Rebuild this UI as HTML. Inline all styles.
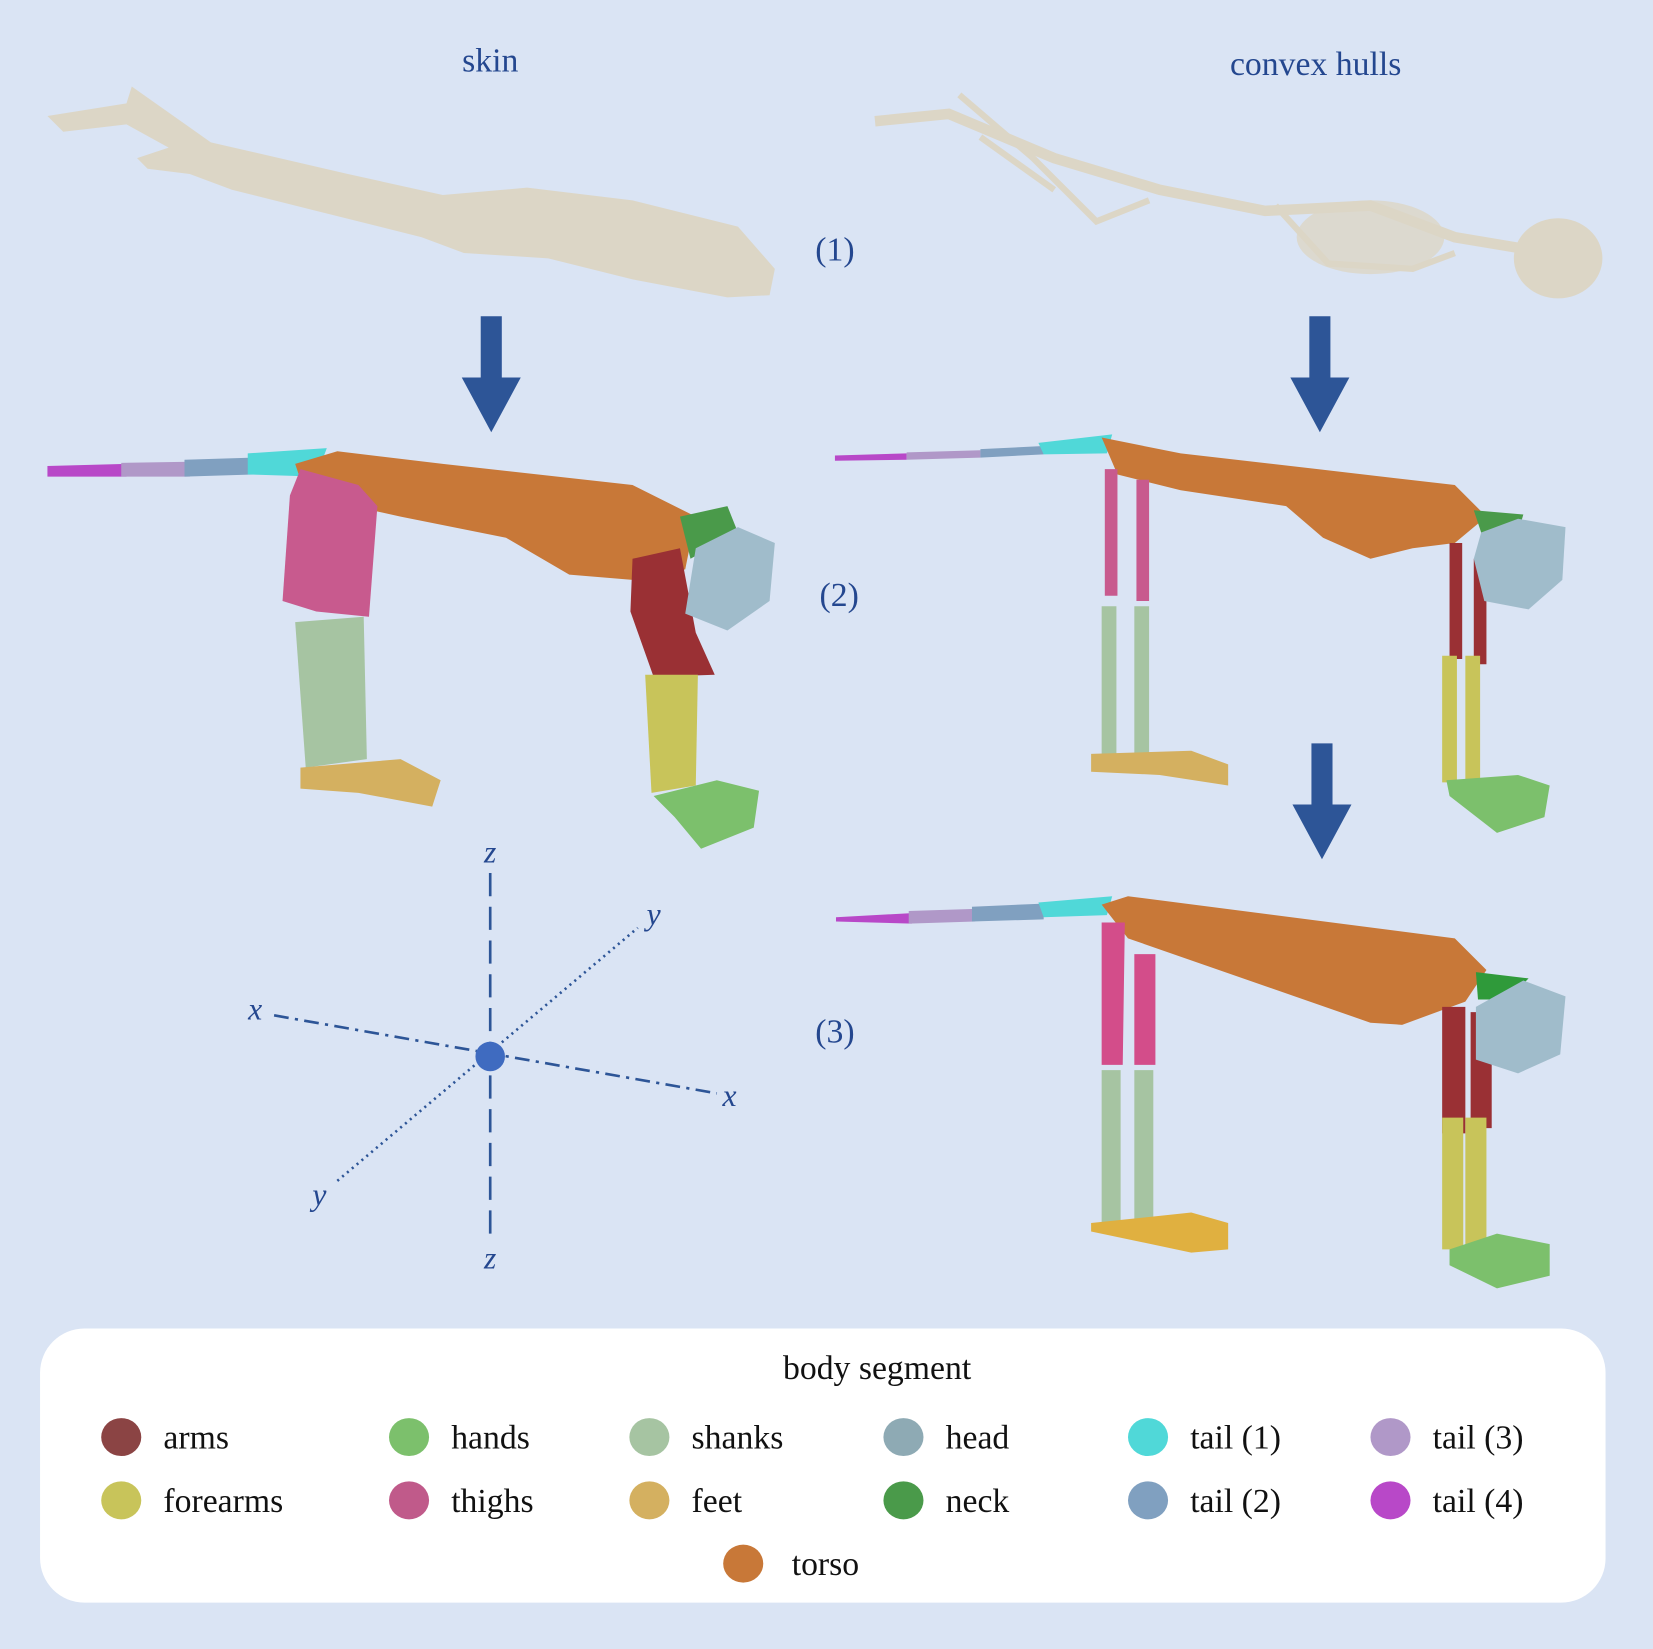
<!DOCTYPE html>
<html><head><meta charset="utf-8"><style>
html,body{margin:0;padding:0;background:#dae4f4;}
svg{display:block;}
text{font-family:"Liberation Serif",serif;}
</style></head><body>
<svg id="fig" width="1653" height="1649" viewBox="0 0 1568 1564" preserveAspectRatio="none" xmlns="http://www.w3.org/2000/svg">
<rect width="1568" height="1564" fill="#dae4f4"/>
<g fill="#24478f" font-size="32">
<text x="465" y="68" text-anchor="middle">skin</text>
<text x="1248" y="71" text-anchor="middle">convex hulls</text>
<text x="792" y="247" text-anchor="middle">(1)</text>
<text x="796" y="575" text-anchor="middle">(2)</text>
<text x="792" y="989" text-anchor="middle">(3)</text>
</g>
<!-- skin model -->
<path fill="#dcd6c6" d="M45,110 L120,98 L125,82 L200,135 L330,165 L420,185 L500,178 L600,190 L660,205 L700,215 L735,255 L730,280 L690,282 L600,265 L520,245 L440,240 L400,225 L300,200 L220,180 L180,165 L140,160 L130,150 L160,140 L120,118 L60,125 Z"/>
<!-- skeleton model -->
<path fill="none" stroke="#dcd6c6" stroke-width="10" d="M830,115 L900,108 L1000,150 L1100,180 L1200,200 L1300,195 L1380,225 L1440,235"/>
<path fill="none" stroke="#dcd6c6" stroke-width="6" d="M910,90 L980,150 L1040,210 L1090,190 M930,130 L1000,180 M1210,195 L1260,250 L1340,255 L1380,240"/>
<ellipse cx="1300" cy="225" rx="70" ry="35" fill="#dcd6c6" opacity="0.8"/>
<ellipse cx="1478" cy="245" rx="42" ry="38" fill="#dcd6c6"/>
<!-- arrows -->
<g fill="#2d5597">
<path d="M456,300 h20 v58 h18 l-28,52 l-28,-52 h18 Z"/>
<path d="M1242,300 h20 v58 h18 l-28,52 l-28,-52 h18 Z"/>
<path d="M1244,705 h20 v58 h18 l-28,52 l-28,-52 h18 Z"/>
</g>
<!-- segmented skin model (2) -->
<g>
<path d="M45,442 L120,440 L120,452 L45,452 Z" fill="#b848c8"/>
<path d="M115,439 L180,438 L180,452 L115,452 Z" fill="#b098c8"/>
<path d="M175,436 L240,434 L240,450 L175,452 Z" fill="#80a0c0"/>
<path d="M235,430 L310,425 L300,452 L235,450 Z" fill="#50d8d8"/>
<path d="M280,440 L320,428 L420,440 L600,460 L660,490 L650,540 L600,550 L540,545 L480,510 L380,490 L290,470 Z" fill="#c87838"/>
<path d="M285,445 L340,460 L358,480 L350,585 L300,580 L268,570 L275,470 Z" fill="#c85a8e"/>
<path d="M280,590 L345,585 L348,720 L290,728 Z" fill="#a6c4a2"/>
<path d="M285,728 L380,720 L418,740 L410,765 L340,752 L285,748 Z" fill="#d4b060"/>
<path d="M600,530 L645,520 L660,600 L678,640 L620,642 L598,580 Z" fill="#9a3034"/>
<path d="M612,640 L662,640 L660,745 L618,752 Z" fill="#c8c45a"/>
<path d="M620,755 L680,740 L720,750 L715,785 L665,805 L640,775 Z" fill="#7cc06c"/>
<path d="M645,490 L690,480 L700,505 L655,530 Z" fill="#4a9a4a"/>
<path d="M660,520 L700,500 L735,515 L730,570 L690,598 L650,582 Z" fill="#a0bccb"/>
</g>
<!-- segmented skeleton (2) -->
<g>
<path d="M792,432 L860,430 L860,436 L792,437 Z" fill="#b848c8"/>
<path d="M860,429 L930,427 L930,434 L860,436 Z" fill="#b098c8"/>
<path d="M930,426 L990,423 L990,431 L930,434 Z" fill="#80a0c0"/>
<path d="M985,420 L1055,412 L1050,430 L990,431 Z" fill="#50d8d8"/>
<path d="M1045,415 L1120,430 L1250,445 L1380,460 L1410,490 L1380,515 L1340,520 L1300,530 L1255,510 L1220,480 L1120,465 L1060,450 Z" fill="#c87838"/>
<path d="M1048,445 h12 v120 h-12 Z M1078,455 h12 v115 h-12 Z" fill="#c85a8e"/>
<path d="M1045,575 h14 v145 h-14 Z M1076,575 h14 v145 h-14 Z" fill="#a6c4a2"/>
<path d="M1035,715 L1130,712 L1165,725 L1165,745 L1100,735 L1035,732 Z" fill="#d4b060"/>
<path d="M1375,515 h12 v110 h-12 Z M1398,530 h12 v100 h-12 Z" fill="#9a3034"/>
<path d="M1368,622 h14 v120 h-14 Z M1390,622 h14 v120 h-14 Z" fill="#c8c45a"/>
<path d="M1372,740 L1440,735 L1470,745 L1465,775 L1420,790 L1375,755 Z" fill="#7cc06c"/>
<path d="M1398,484 L1445,488 L1440,505 L1405,505 Z" fill="#4a9a4a"/>
<path d="M1405,505 L1440,492 L1485,500 L1482,550 L1450,578 L1408,570 L1398,530 Z" fill="#a0bccb"/>
</g>
<!-- convex hull model (3) -->
<g>
<path d="M793,870 L865,866 L865,876 L793,874 Z" fill="#b848c8"/>
<path d="M862,864 L925,862 L925,874 L862,876 Z" fill="#b098c8"/>
<path d="M922,860 L990,857 L990,872 L922,874 Z" fill="#80a0c0"/>
<path d="M985,856 L1055,850 L1050,868 L990,870 Z" fill="#50d8d8"/>
<path d="M1045,858 L1070,850 L1380,890 L1410,920 L1390,950 L1330,972 L1300,970 L1070,890 Z" fill="#c87838"/>
<path d="M1045,875 h22 l-2,135 h-20 Z M1076,905 h20 v105 h-20 Z" fill="#d34d8a"/>
<path d="M1045,1015 h18 v145 h-18 Z M1076,1015 h18 v145 h-18 Z" fill="#a6c4a2"/>
<path d="M1035,1160 L1130,1150 L1165,1160 L1165,1185 L1130,1188 L1035,1168 Z" fill="#e0b040"/>
<path d="M1368,955 h22 v120 h-22 Z M1395,960 h20 v110 h-20 Z" fill="#9a3034"/>
<path d="M1368,1060 h20 v125 h-20 Z M1390,1060 h20 v125 h-20 Z" fill="#c8c45a"/>
<path d="M1375,1185 L1420,1170 L1470,1180 L1470,1210 L1420,1222 L1375,1200 Z" fill="#7cc06c"/>
<path d="M1400,922 L1450,928 L1430,948 L1402,948 Z" fill="#2f9a3a"/>
<path d="M1400,955 L1445,930 L1485,945 L1480,1000 L1440,1018 L1400,1005 Z" fill="#a0bccb"/>
</g>
<!-- axes -->
<g stroke="#2d5597" stroke-width="2.5" fill="none">
<line x1="465" y1="828" x2="465" y2="1178" stroke-dasharray="22,10"/>
<line x1="260" y1="963" x2="680" y2="1037" stroke-dasharray="14,6,3,6"/>
<line x1="320" y1="1120" x2="605" y2="880" stroke-dasharray="2,4"/>
</g>
<circle cx="465" cy="1002" r="14" fill="#3f6bc0"/>
<g fill="#24478f" font-size="30" font-style="italic">
<text x="465" y="818" text-anchor="middle">z</text>
<text x="465" y="1203" text-anchor="middle">z</text>
<text x="242" y="967" text-anchor="middle">x</text>
<text x="692" y="1049" text-anchor="middle">x</text>
<text x="620" y="877" text-anchor="middle">y</text>
<text x="303" y="1143" text-anchor="middle">y</text>
</g>
<!-- legend -->
<rect x="38" y="1260" width="1485" height="260" rx="42" fill="#ffffff"/>
<text x="832" y="1308" text-anchor="middle" font-size="32" fill="#111">body segment</text>
<g id="legend"></g>
</svg>
<script>
const labels=["arms","forearms","hands","thighs","shanks","feet","head","neck","tail (1)","tail (2)","tail (3)","tail (4)","torso"];
const colors=["#8b4444","#c8c45a","#7cc06c","#c05a8a","#a6c4a2","#d4b060","#8eaab4","#4a9a4a","#50d8d8","#80a0c0","#b098c8","#b848c8","#c87838"];
const colX=[115,388,616,857,1089,1319];
const rowY=[1363,1423];
const NS="http://www.w3.org/2000/svg";
const g=document.getElementById('legend');
labels.forEach((lab,i)=>{
  let cx,cy;
  if(i<12){cx=colX[Math.floor(i/2)];cy=rowY[i%2];}else{cx=705;cy=1483;}
  const e=document.createElementNS(NS,'g');
  
  
  const c=document.createElementNS(NS,'ellipse');
  
  
  c.setAttribute('cx',cx);c.setAttribute('cy',cy);c.setAttribute('rx',19);c.setAttribute('ry',18);
  c.setAttribute('fill',colors[i]);
  const t=document.createElementNS(NS,'text');
  
  
  t.setAttribute('x',cx+(i===12?46:40));t.setAttribute('y',cy+11);
  t.setAttribute('font-size','32');t.setAttribute('fill','#111');
  t.textContent=lab;
  e.appendChild(c);e.appendChild(t);g.appendChild(e);
});
</script>
</body></html>
